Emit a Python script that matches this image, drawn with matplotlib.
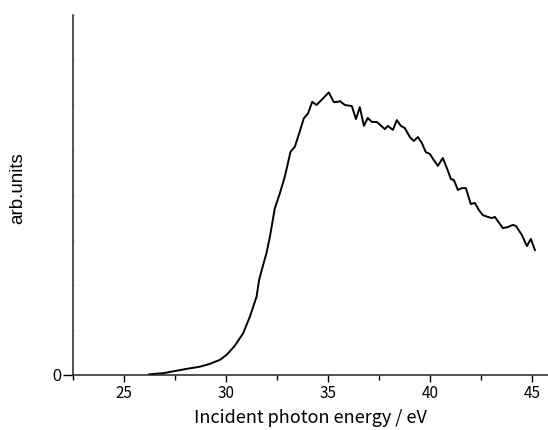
import numpy as np
import matplotlib
matplotlib.use("Agg")
import matplotlib.pyplot as plt
from matplotlib.ticker import MultipleLocator

# photon energy (eV) and intensity (arb. units, 0-100 scale)
energy = [26.24, 26.92, 27.50, 28.07, 28.72, 29.21, 29.70, 30.03, 30.43, 30.84,
          31.17, 31.50, 31.62, 31.82, 31.98, 32.15, 32.39, 32.64, 32.88, 33.16,
          33.37, 33.58, 33.81, 34.02, 34.22, 34.43, 34.76, 35.03, 35.28, 35.49,
          35.57, 35.82, 36.16, 36.36, 36.55, 36.75, 36.94, 37.14, 37.38, 37.78,
          37.92, 38.17, 38.36, 38.56, 38.75, 39.00, 39.19, 39.39, 39.59, 39.78,
          39.98, 40.17, 40.37, 40.61, 40.81, 41.01, 41.15, 41.35, 41.54, 41.74,
          41.98, 42.18, 42.38, 42.57, 42.82, 43.01, 43.16, 43.55, 43.80, 44.04,
          44.19, 44.48, 44.73, 44.92, 45.12]
intensity = [0.2, 0.5, 1.1, 1.7, 2.3, 3.1, 4.2, 5.6, 8.1, 11.6,
             16.2, 21.8, 26.4, 30.6, 33.8, 38.4, 46.3, 50.5, 55.1, 62.0,
             63.4, 67.1, 71.3, 72.7, 75.9, 75.0, 76.9, 78.5, 75.8, 75.9,
             76.1, 75.0, 74.7, 71.1, 74.4, 69.2, 71.4, 70.3, 70.3, 68.3,
             69.2, 68.1, 70.8, 69.2, 68.6, 66.1, 65.0, 66.1, 64.4, 61.9,
             61.4, 59.7, 58.1, 60.3, 57.5, 54.4, 54.2, 51.4, 51.9, 51.9,
             47.5, 47.8, 45.8, 44.4, 43.9, 43.6, 43.9, 40.8, 41.1, 41.7,
             41.4, 38.9, 35.8, 37.8, 34.7]

xticks = [25, 30, 35, 40, 45]

fig = plt.figure(figsize=(5.48, 4.30), dpi=100)
ax = fig.add_axes([0.1327, 0.1279, 0.8673, 0.8372])

ax.plot(energy, intensity, color="black", linewidth=1.4)

ax.set_xlim(22.5, 45.76)
ax.set_ylim(0, 100)

ax.spines["top"].set_visible(False)
ax.spines["right"].set_visible(False)
for s in ["left", "bottom"]:
    ax.spines[s].set_color("#222222")
    ax.spines[s].set_linewidth(1.1)

ax.set_xticks(xticks)
ax.set_xticklabels([str(t) for t in xticks], family=["Noto Sans CJK JP"], fontsize=11)
ax.xaxis.set_minor_locator(MultipleLocator(2.5))
ax.tick_params(axis="x", which="major", direction="out", length=5, width=1.0, pad=2)
ax.tick_params(axis="x", which="minor", direction="out", length=3.5, width=1.0)

ax.set_yticks([0])
ax.set_yticklabels(["0"], family=["Liberation Sans"], fontsize=11.5)
ax.yaxis.set_minor_locator(MultipleLocator(12.5))
ax.tick_params(axis="y", which="major", direction="out", length=7, width=1.0, pad=1)
ax.tick_params(axis="y", which="minor", direction="in", length=1.0, width=0.8, color="#aaaaaa")

ax.set_xlabel("Incident photon energy / eV", family=["Noto Sans CJK JP"], fontsize=13)
ax.xaxis.set_label_coords(0.5, -0.095)
ax.set_ylabel("arb.units", family=["Liberation Sans"], fontsize=13.5)
ax.yaxis.set_label_coords(-0.098, 0.52)

fig.savefig("out.png", dpi=100)
